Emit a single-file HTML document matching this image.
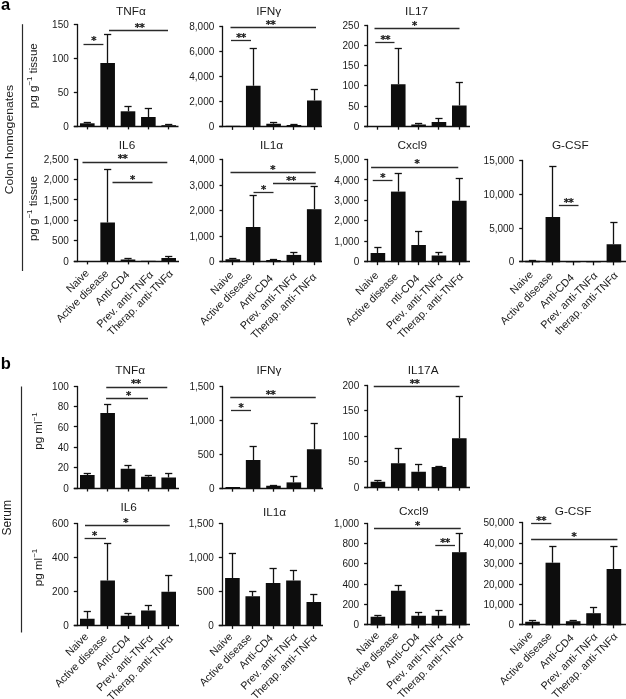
<!DOCTYPE html>
<html><head><meta charset="utf-8"><title>Figure</title>
<style>
html,body{margin:0;padding:0;background:#fff;}
svg{display:block;font-family:"Liberation Sans", sans-serif;}
</style></head>
<body>
<svg width="626" height="699" viewBox="0 0 626 699">
<rect width="626" height="699" fill="#fff"/>
<text x="131.00" y="15.00" font-size="11.8" text-anchor="middle" fill="#1a1a1a" >TNFα</text>
<line x1="77.50" y1="23.85" x2="77.50" y2="127.15" stroke="#111" stroke-width="1.3"/>
<line x1="73.80" y1="126.50" x2="178.50" y2="126.50" stroke="#111" stroke-width="1.3"/>
<line x1="73.80" y1="24.50" x2="77.10" y2="24.50" stroke="#111" stroke-width="1.3"/>
<text x="68.80" y="27.85" font-size="10" text-anchor="end" fill="#1a1a1a" >150</text>
<line x1="73.80" y1="58.50" x2="77.10" y2="58.50" stroke="#111" stroke-width="1.3"/>
<text x="68.80" y="61.75" font-size="10" text-anchor="end" fill="#1a1a1a" >100</text>
<line x1="73.80" y1="92.50" x2="77.10" y2="92.50" stroke="#111" stroke-width="1.3"/>
<text x="68.80" y="95.65" font-size="10" text-anchor="end" fill="#1a1a1a" >50</text>
<line x1="73.80" y1="126.50" x2="77.10" y2="126.50" stroke="#111" stroke-width="1.3"/>
<text x="68.80" y="129.55" font-size="10" text-anchor="end" fill="#1a1a1a" >0</text>
<line x1="87.50" y1="126.00" x2="87.50" y2="129.40" stroke="#111" stroke-width="1.3"/>
<rect x="80.00" y="123.30" width="14.6" height="3.10" fill="#0d0d0d"/>
<line x1="87.50" y1="122.00" x2="87.50" y2="123.30" stroke="#111" stroke-width="1.3"/>
<line x1="83.70" y1="122.50" x2="90.90" y2="122.50" stroke="#111" stroke-width="1.3"/>
<line x1="107.50" y1="126.00" x2="107.50" y2="129.40" stroke="#111" stroke-width="1.3"/>
<rect x="100.35" y="63.00" width="14.6" height="63.40" fill="#0d0d0d"/>
<line x1="107.50" y1="34.30" x2="107.50" y2="63.00" stroke="#111" stroke-width="1.3"/>
<line x1="104.05" y1="34.50" x2="111.25" y2="34.50" stroke="#111" stroke-width="1.3"/>
<line x1="128.50" y1="126.00" x2="128.50" y2="129.40" stroke="#111" stroke-width="1.3"/>
<rect x="120.70" y="111.30" width="14.6" height="15.10" fill="#0d0d0d"/>
<line x1="128.50" y1="106.60" x2="128.50" y2="111.30" stroke="#111" stroke-width="1.3"/>
<line x1="124.40" y1="106.50" x2="131.60" y2="106.50" stroke="#111" stroke-width="1.3"/>
<line x1="148.50" y1="126.00" x2="148.50" y2="129.40" stroke="#111" stroke-width="1.3"/>
<rect x="141.05" y="117.00" width="14.6" height="9.40" fill="#0d0d0d"/>
<line x1="148.50" y1="108.20" x2="148.50" y2="117.00" stroke="#111" stroke-width="1.3"/>
<line x1="144.75" y1="108.50" x2="151.95" y2="108.50" stroke="#111" stroke-width="1.3"/>
<line x1="168.50" y1="126.00" x2="168.50" y2="129.40" stroke="#111" stroke-width="1.3"/>
<rect x="161.40" y="125.20" width="14.6" height="1.20" fill="#0d0d0d"/>
<line x1="168.50" y1="124.60" x2="168.50" y2="125.20" stroke="#111" stroke-width="1.3"/>
<line x1="165.10" y1="124.50" x2="172.30" y2="124.50" stroke="#111" stroke-width="1.3"/>
<line x1="83.50" y1="44.50" x2="103.40" y2="44.50" stroke="#2a2a2a" stroke-width="1.3"/>
<text x="93.70" y="44.40" font-size="10" text-anchor="middle" fill="#1a1a1a" font-family="DejaVu Sans, sans-serif" font-weight="bold" letter-spacing="-0.4" stroke="#1a1a1a" stroke-width="0.25">*</text>
<line x1="109.00" y1="30.50" x2="168.00" y2="30.50" stroke="#2a2a2a" stroke-width="1.3"/>
<text x="139.60" y="30.90" font-size="10" text-anchor="middle" fill="#1a1a1a" font-family="DejaVu Sans, sans-serif" font-weight="bold" letter-spacing="-0.4" stroke="#1a1a1a" stroke-width="0.25">**</text>
<text x="268.75" y="15.00" font-size="11.8" text-anchor="middle" fill="#1a1a1a" >IFNγ</text>
<line x1="222.50" y1="25.85" x2="222.50" y2="127.15" stroke="#111" stroke-width="1.3"/>
<line x1="219.30" y1="126.50" x2="322.00" y2="126.50" stroke="#111" stroke-width="1.3"/>
<line x1="219.30" y1="26.50" x2="222.60" y2="26.50" stroke="#111" stroke-width="1.3"/>
<text x="214.30" y="29.65" font-size="10" text-anchor="end" fill="#1a1a1a" >8,000</text>
<line x1="219.30" y1="51.50" x2="222.60" y2="51.50" stroke="#111" stroke-width="1.3"/>
<text x="214.30" y="54.75" font-size="10" text-anchor="end" fill="#1a1a1a" >6,000</text>
<line x1="219.30" y1="76.50" x2="222.60" y2="76.50" stroke="#111" stroke-width="1.3"/>
<text x="214.30" y="79.85" font-size="10" text-anchor="end" fill="#1a1a1a" >4,000</text>
<line x1="219.30" y1="101.50" x2="222.60" y2="101.50" stroke="#111" stroke-width="1.3"/>
<text x="214.30" y="104.95" font-size="10" text-anchor="end" fill="#1a1a1a" >2,000</text>
<line x1="219.30" y1="126.50" x2="222.60" y2="126.50" stroke="#111" stroke-width="1.3"/>
<text x="214.30" y="130.05" font-size="10" text-anchor="end" fill="#1a1a1a" >0</text>
<line x1="232.50" y1="126.50" x2="232.50" y2="129.90" stroke="#111" stroke-width="1.3"/>
<rect x="225.60" y="125.80" width="14.6" height="1.10" fill="#0d0d0d"/>
<line x1="253.50" y1="126.50" x2="253.50" y2="129.90" stroke="#111" stroke-width="1.3"/>
<rect x="245.95" y="85.75" width="14.6" height="41.15" fill="#0d0d0d"/>
<line x1="253.50" y1="48.00" x2="253.50" y2="85.75" stroke="#111" stroke-width="1.3"/>
<line x1="249.65" y1="48.50" x2="256.85" y2="48.50" stroke="#111" stroke-width="1.3"/>
<line x1="273.50" y1="126.50" x2="273.50" y2="129.90" stroke="#111" stroke-width="1.3"/>
<rect x="266.30" y="123.75" width="14.6" height="3.15" fill="#0d0d0d"/>
<line x1="273.50" y1="122.00" x2="273.50" y2="123.75" stroke="#111" stroke-width="1.3"/>
<line x1="270.00" y1="122.50" x2="277.20" y2="122.50" stroke="#111" stroke-width="1.3"/>
<line x1="293.50" y1="126.50" x2="293.50" y2="129.90" stroke="#111" stroke-width="1.3"/>
<rect x="286.65" y="125.00" width="14.6" height="1.90" fill="#0d0d0d"/>
<line x1="293.50" y1="124.50" x2="293.50" y2="125.00" stroke="#111" stroke-width="1.3"/>
<line x1="290.35" y1="124.50" x2="297.55" y2="124.50" stroke="#111" stroke-width="1.3"/>
<line x1="314.50" y1="126.50" x2="314.50" y2="129.90" stroke="#111" stroke-width="1.3"/>
<rect x="307.00" y="100.50" width="14.6" height="26.40" fill="#0d0d0d"/>
<line x1="314.50" y1="89.25" x2="314.50" y2="100.50" stroke="#111" stroke-width="1.3"/>
<line x1="310.70" y1="89.50" x2="317.90" y2="89.50" stroke="#111" stroke-width="1.3"/>
<line x1="230.50" y1="27.50" x2="316.00" y2="27.50" stroke="#2a2a2a" stroke-width="1.3"/>
<text x="270.50" y="27.80" font-size="10" text-anchor="middle" fill="#1a1a1a" font-family="DejaVu Sans, sans-serif" font-weight="bold" letter-spacing="-0.4" stroke="#1a1a1a" stroke-width="0.25">**</text>
<line x1="231.00" y1="40.50" x2="251.00" y2="40.50" stroke="#2a2a2a" stroke-width="1.3"/>
<text x="241.00" y="40.80" font-size="10" text-anchor="middle" fill="#1a1a1a" font-family="DejaVu Sans, sans-serif" font-weight="bold" letter-spacing="-0.4" stroke="#1a1a1a" stroke-width="0.25">**</text>
<text x="416.60" y="15.00" font-size="11.8" text-anchor="middle" fill="#1a1a1a" >IL17</text>
<line x1="367.50" y1="24.85" x2="367.50" y2="127.15" stroke="#111" stroke-width="1.3"/>
<line x1="364.25" y1="126.50" x2="470.00" y2="126.50" stroke="#111" stroke-width="1.3"/>
<line x1="364.25" y1="25.50" x2="367.55" y2="25.50" stroke="#111" stroke-width="1.3"/>
<text x="359.25" y="28.55" font-size="10" text-anchor="end" fill="#1a1a1a" >250</text>
<line x1="364.25" y1="45.50" x2="367.55" y2="45.50" stroke="#111" stroke-width="1.3"/>
<text x="359.25" y="48.81" font-size="10" text-anchor="end" fill="#1a1a1a" >200</text>
<line x1="364.25" y1="65.50" x2="367.55" y2="65.50" stroke="#111" stroke-width="1.3"/>
<text x="359.25" y="69.07" font-size="10" text-anchor="end" fill="#1a1a1a" >150</text>
<line x1="364.25" y1="85.50" x2="367.55" y2="85.50" stroke="#111" stroke-width="1.3"/>
<text x="359.25" y="89.33" font-size="10" text-anchor="end" fill="#1a1a1a" >100</text>
<line x1="364.25" y1="106.50" x2="367.55" y2="106.50" stroke="#111" stroke-width="1.3"/>
<text x="359.25" y="109.59" font-size="10" text-anchor="end" fill="#1a1a1a" >50</text>
<line x1="364.25" y1="126.50" x2="367.55" y2="126.50" stroke="#111" stroke-width="1.3"/>
<text x="359.25" y="129.85" font-size="10" text-anchor="end" fill="#1a1a1a" >0</text>
<line x1="377.50" y1="126.30" x2="377.50" y2="129.70" stroke="#111" stroke-width="1.3"/>
<line x1="398.50" y1="126.30" x2="398.50" y2="129.70" stroke="#111" stroke-width="1.3"/>
<rect x="390.95" y="84.25" width="14.6" height="42.45" fill="#0d0d0d"/>
<line x1="398.50" y1="48.75" x2="398.50" y2="84.25" stroke="#111" stroke-width="1.3"/>
<line x1="394.65" y1="48.50" x2="401.85" y2="48.50" stroke="#111" stroke-width="1.3"/>
<line x1="418.50" y1="126.30" x2="418.50" y2="129.70" stroke="#111" stroke-width="1.3"/>
<rect x="411.30" y="124.50" width="14.6" height="2.20" fill="#0d0d0d"/>
<line x1="418.50" y1="123.50" x2="418.50" y2="124.50" stroke="#111" stroke-width="1.3"/>
<line x1="415.00" y1="123.50" x2="422.20" y2="123.50" stroke="#111" stroke-width="1.3"/>
<line x1="438.50" y1="126.30" x2="438.50" y2="129.70" stroke="#111" stroke-width="1.3"/>
<rect x="431.65" y="122.00" width="14.6" height="4.70" fill="#0d0d0d"/>
<line x1="438.50" y1="118.25" x2="438.50" y2="122.00" stroke="#111" stroke-width="1.3"/>
<line x1="435.35" y1="118.50" x2="442.55" y2="118.50" stroke="#111" stroke-width="1.3"/>
<line x1="459.50" y1="126.30" x2="459.50" y2="129.70" stroke="#111" stroke-width="1.3"/>
<rect x="452.00" y="105.50" width="14.6" height="21.20" fill="#0d0d0d"/>
<line x1="459.50" y1="82.00" x2="459.50" y2="105.50" stroke="#111" stroke-width="1.3"/>
<line x1="455.70" y1="82.50" x2="462.90" y2="82.50" stroke="#111" stroke-width="1.3"/>
<line x1="374.50" y1="28.50" x2="459.50" y2="28.50" stroke="#2a2a2a" stroke-width="1.3"/>
<text x="414.50" y="29.10" font-size="10" text-anchor="middle" fill="#1a1a1a" font-family="DejaVu Sans, sans-serif" font-weight="bold" letter-spacing="-0.4" stroke="#1a1a1a" stroke-width="0.25">*</text>
<line x1="375.25" y1="42.50" x2="394.50" y2="42.50" stroke="#2a2a2a" stroke-width="1.3"/>
<text x="385.25" y="42.55" font-size="10" text-anchor="middle" fill="#1a1a1a" font-family="DejaVu Sans, sans-serif" font-weight="bold" letter-spacing="-0.4" stroke="#1a1a1a" stroke-width="0.25">**</text>
<text x="127.00" y="149.00" font-size="11.8" text-anchor="middle" fill="#1a1a1a" >IL6</text>
<line x1="77.50" y1="158.85" x2="77.50" y2="262.15" stroke="#111" stroke-width="1.3"/>
<line x1="73.80" y1="261.50" x2="179.00" y2="261.50" stroke="#111" stroke-width="1.3"/>
<line x1="73.80" y1="159.50" x2="77.10" y2="159.50" stroke="#111" stroke-width="1.3"/>
<text x="68.80" y="162.85" font-size="10" text-anchor="end" fill="#1a1a1a" >2,500</text>
<line x1="73.80" y1="179.50" x2="77.10" y2="179.50" stroke="#111" stroke-width="1.3"/>
<text x="68.80" y="183.19" font-size="10" text-anchor="end" fill="#1a1a1a" >2,000</text>
<line x1="73.80" y1="199.50" x2="77.10" y2="199.50" stroke="#111" stroke-width="1.3"/>
<text x="68.80" y="203.53" font-size="10" text-anchor="end" fill="#1a1a1a" >1,500</text>
<line x1="73.80" y1="220.50" x2="77.10" y2="220.50" stroke="#111" stroke-width="1.3"/>
<text x="68.80" y="223.87" font-size="10" text-anchor="end" fill="#1a1a1a" >1,000</text>
<line x1="73.80" y1="240.50" x2="77.10" y2="240.50" stroke="#111" stroke-width="1.3"/>
<text x="68.80" y="244.21" font-size="10" text-anchor="end" fill="#1a1a1a" >500</text>
<line x1="73.80" y1="261.50" x2="77.10" y2="261.50" stroke="#111" stroke-width="1.3"/>
<text x="68.80" y="264.55" font-size="10" text-anchor="end" fill="#1a1a1a" >0</text>
<line x1="87.50" y1="261.00" x2="87.50" y2="264.40" stroke="#111" stroke-width="1.3"/>
<line x1="107.50" y1="261.00" x2="107.50" y2="264.40" stroke="#111" stroke-width="1.3"/>
<rect x="100.35" y="222.50" width="14.6" height="38.90" fill="#0d0d0d"/>
<line x1="107.50" y1="169.25" x2="107.50" y2="222.50" stroke="#111" stroke-width="1.3"/>
<line x1="104.05" y1="169.50" x2="111.25" y2="169.50" stroke="#111" stroke-width="1.3"/>
<line x1="128.50" y1="261.00" x2="128.50" y2="264.40" stroke="#111" stroke-width="1.3"/>
<rect x="120.70" y="259.50" width="14.6" height="1.90" fill="#0d0d0d"/>
<line x1="128.50" y1="258.80" x2="128.50" y2="259.50" stroke="#111" stroke-width="1.3"/>
<line x1="124.40" y1="258.50" x2="131.60" y2="258.50" stroke="#111" stroke-width="1.3"/>
<line x1="148.50" y1="261.00" x2="148.50" y2="264.40" stroke="#111" stroke-width="1.3"/>
<rect x="141.05" y="260.80" width="14.6" height="0.60" fill="#0d0d0d"/>
<line x1="168.50" y1="261.00" x2="168.50" y2="264.40" stroke="#111" stroke-width="1.3"/>
<rect x="161.40" y="258.00" width="14.6" height="3.40" fill="#0d0d0d"/>
<line x1="168.50" y1="256.75" x2="168.50" y2="258.00" stroke="#111" stroke-width="1.3"/>
<line x1="165.10" y1="256.50" x2="172.30" y2="256.50" stroke="#111" stroke-width="1.3"/>
<line x1="82.50" y1="162.50" x2="167.30" y2="162.50" stroke="#2a2a2a" stroke-width="1.3"/>
<text x="122.50" y="162.20" font-size="10" text-anchor="middle" fill="#1a1a1a" font-family="DejaVu Sans, sans-serif" font-weight="bold" letter-spacing="-0.4" stroke="#1a1a1a" stroke-width="0.25">**</text>
<line x1="112.50" y1="182.50" x2="152.50" y2="182.50" stroke="#2a2a2a" stroke-width="1.3"/>
<text x="132.50" y="182.80" font-size="10" text-anchor="middle" fill="#1a1a1a" font-family="DejaVu Sans, sans-serif" font-weight="bold" letter-spacing="-0.4" stroke="#1a1a1a" stroke-width="0.25">*</text>
<text x="89.80" y="273.80" font-size="10.7" text-anchor="end" fill="#1a1a1a" transform="rotate(-45 89.80 273.80)">Naive</text>
<text x="109.15" y="274.30" font-size="10.7" text-anchor="end" fill="#1a1a1a" transform="rotate(-45 109.15 274.30)">Active disease</text>
<text x="130.20" y="275.40" font-size="10.7" text-anchor="end" fill="#1a1a1a" transform="rotate(-45 130.20 275.40)">Anti-CD4</text>
<text x="153.85" y="275.30" font-size="10.7" text-anchor="end" fill="#1a1a1a" transform="rotate(-45 153.85 275.30)">Prev. anti-TNFα</text>
<text x="173.70" y="274.30" font-size="10.7" text-anchor="end" fill="#1a1a1a" transform="rotate(-45 173.70 274.30)">Therap. anti-TNFα</text>
<text x="271.60" y="148.80" font-size="11.8" text-anchor="middle" fill="#1a1a1a" >IL1α</text>
<line x1="222.50" y1="158.85" x2="222.50" y2="262.15" stroke="#111" stroke-width="1.3"/>
<line x1="219.50" y1="261.50" x2="322.00" y2="261.50" stroke="#111" stroke-width="1.3"/>
<line x1="219.50" y1="159.50" x2="222.80" y2="159.50" stroke="#111" stroke-width="1.3"/>
<text x="214.50" y="163.05" font-size="10" text-anchor="end" fill="#1a1a1a" >4,000</text>
<line x1="219.50" y1="185.50" x2="222.80" y2="185.50" stroke="#111" stroke-width="1.3"/>
<text x="214.50" y="188.61" font-size="10" text-anchor="end" fill="#1a1a1a" >3,000</text>
<line x1="219.50" y1="210.50" x2="222.80" y2="210.50" stroke="#111" stroke-width="1.3"/>
<text x="214.50" y="214.18" font-size="10" text-anchor="end" fill="#1a1a1a" >2,000</text>
<line x1="219.50" y1="236.50" x2="222.80" y2="236.50" stroke="#111" stroke-width="1.3"/>
<text x="214.50" y="239.74" font-size="10" text-anchor="end" fill="#1a1a1a" >1,000</text>
<line x1="219.50" y1="261.50" x2="222.80" y2="261.50" stroke="#111" stroke-width="1.3"/>
<text x="214.50" y="265.30" font-size="10" text-anchor="end" fill="#1a1a1a" >0</text>
<line x1="232.50" y1="261.75" x2="232.50" y2="265.15" stroke="#111" stroke-width="1.3"/>
<rect x="225.50" y="259.25" width="14.6" height="2.90" fill="#0d0d0d"/>
<line x1="232.50" y1="258.50" x2="232.50" y2="259.25" stroke="#111" stroke-width="1.3"/>
<line x1="229.20" y1="258.50" x2="236.40" y2="258.50" stroke="#111" stroke-width="1.3"/>
<line x1="253.50" y1="261.75" x2="253.50" y2="265.15" stroke="#111" stroke-width="1.3"/>
<rect x="245.85" y="227.00" width="14.6" height="35.15" fill="#0d0d0d"/>
<line x1="253.50" y1="195.50" x2="253.50" y2="227.00" stroke="#111" stroke-width="1.3"/>
<line x1="249.55" y1="195.50" x2="256.75" y2="195.50" stroke="#111" stroke-width="1.3"/>
<line x1="273.50" y1="261.75" x2="273.50" y2="265.15" stroke="#111" stroke-width="1.3"/>
<rect x="266.20" y="260.00" width="14.6" height="2.15" fill="#0d0d0d"/>
<line x1="273.50" y1="259.40" x2="273.50" y2="260.00" stroke="#111" stroke-width="1.3"/>
<line x1="269.90" y1="259.50" x2="277.10" y2="259.50" stroke="#111" stroke-width="1.3"/>
<line x1="293.50" y1="261.75" x2="293.50" y2="265.15" stroke="#111" stroke-width="1.3"/>
<rect x="286.55" y="254.90" width="14.6" height="7.25" fill="#0d0d0d"/>
<line x1="293.50" y1="252.80" x2="293.50" y2="254.90" stroke="#111" stroke-width="1.3"/>
<line x1="290.25" y1="252.50" x2="297.45" y2="252.50" stroke="#111" stroke-width="1.3"/>
<line x1="314.50" y1="261.75" x2="314.50" y2="265.15" stroke="#111" stroke-width="1.3"/>
<rect x="306.90" y="209.20" width="14.6" height="52.95" fill="#0d0d0d"/>
<line x1="314.50" y1="186.40" x2="314.50" y2="209.20" stroke="#111" stroke-width="1.3"/>
<line x1="310.60" y1="186.50" x2="317.80" y2="186.50" stroke="#111" stroke-width="1.3"/>
<line x1="230.50" y1="172.50" x2="315.75" y2="172.50" stroke="#2a2a2a" stroke-width="1.3"/>
<text x="272.75" y="172.60" font-size="10" text-anchor="middle" fill="#1a1a1a" font-family="DejaVu Sans, sans-serif" font-weight="bold" letter-spacing="-0.4" stroke="#1a1a1a" stroke-width="0.25">*</text>
<line x1="273.00" y1="183.50" x2="315.75" y2="183.50" stroke="#2a2a2a" stroke-width="1.3"/>
<text x="291.00" y="183.80" font-size="10" text-anchor="middle" fill="#1a1a1a" font-family="DejaVu Sans, sans-serif" font-weight="bold" letter-spacing="-0.4" stroke="#1a1a1a" stroke-width="0.25">**</text>
<line x1="253.50" y1="192.50" x2="273.50" y2="192.50" stroke="#2a2a2a" stroke-width="1.3"/>
<text x="263.50" y="192.55" font-size="10" text-anchor="middle" fill="#1a1a1a" font-family="DejaVu Sans, sans-serif" font-weight="bold" letter-spacing="-0.4" stroke="#1a1a1a" stroke-width="0.25">*</text>
<text x="234.00" y="275.85" font-size="10.7" text-anchor="end" fill="#1a1a1a" transform="rotate(-45 234.00 275.85)">Naive</text>
<text x="252.85" y="276.95" font-size="10.7" text-anchor="end" fill="#1a1a1a" transform="rotate(-45 252.85 276.95)">Active disease</text>
<text x="273.80" y="278.95" font-size="10.7" text-anchor="end" fill="#1a1a1a" transform="rotate(-45 273.80 278.95)">Anti-CD4</text>
<text x="297.35" y="276.95" font-size="10.7" text-anchor="end" fill="#1a1a1a" transform="rotate(-45 297.35 276.95)">Prev. anti-TNFα</text>
<text x="317.20" y="277.65" font-size="10.7" text-anchor="end" fill="#1a1a1a" transform="rotate(-45 317.20 277.65)">Therap. anti-TNFα</text>
<text x="412.25" y="149.40" font-size="11.8" text-anchor="middle" fill="#1a1a1a" >Cxcl9</text>
<line x1="367.50" y1="158.85" x2="367.50" y2="262.15" stroke="#111" stroke-width="1.3"/>
<line x1="364.25" y1="261.50" x2="470.00" y2="261.50" stroke="#111" stroke-width="1.3"/>
<line x1="364.25" y1="159.50" x2="367.55" y2="159.50" stroke="#111" stroke-width="1.3"/>
<text x="359.25" y="163.05" font-size="10" text-anchor="end" fill="#1a1a1a" >5,000</text>
<line x1="364.25" y1="179.50" x2="367.55" y2="179.50" stroke="#111" stroke-width="1.3"/>
<text x="359.25" y="183.50" font-size="10" text-anchor="end" fill="#1a1a1a" >4,000</text>
<line x1="364.25" y1="200.50" x2="367.55" y2="200.50" stroke="#111" stroke-width="1.3"/>
<text x="359.25" y="203.95" font-size="10" text-anchor="end" fill="#1a1a1a" >3,000</text>
<line x1="364.25" y1="220.50" x2="367.55" y2="220.50" stroke="#111" stroke-width="1.3"/>
<text x="359.25" y="224.40" font-size="10" text-anchor="end" fill="#1a1a1a" >2,000</text>
<line x1="364.25" y1="241.50" x2="367.55" y2="241.50" stroke="#111" stroke-width="1.3"/>
<text x="359.25" y="244.85" font-size="10" text-anchor="end" fill="#1a1a1a" >1,000</text>
<line x1="364.25" y1="261.50" x2="367.55" y2="261.50" stroke="#111" stroke-width="1.3"/>
<text x="359.25" y="265.30" font-size="10" text-anchor="end" fill="#1a1a1a" >0</text>
<line x1="377.50" y1="261.75" x2="377.50" y2="265.15" stroke="#111" stroke-width="1.3"/>
<rect x="370.60" y="253.00" width="14.6" height="9.15" fill="#0d0d0d"/>
<line x1="377.50" y1="247.50" x2="377.50" y2="253.00" stroke="#111" stroke-width="1.3"/>
<line x1="374.30" y1="247.50" x2="381.50" y2="247.50" stroke="#111" stroke-width="1.3"/>
<line x1="398.50" y1="261.75" x2="398.50" y2="265.15" stroke="#111" stroke-width="1.3"/>
<rect x="390.95" y="191.60" width="14.6" height="70.55" fill="#0d0d0d"/>
<line x1="398.50" y1="173.75" x2="398.50" y2="191.60" stroke="#111" stroke-width="1.3"/>
<line x1="394.65" y1="173.50" x2="401.85" y2="173.50" stroke="#111" stroke-width="1.3"/>
<line x1="418.50" y1="261.75" x2="418.50" y2="265.15" stroke="#111" stroke-width="1.3"/>
<rect x="411.30" y="245.00" width="14.6" height="17.15" fill="#0d0d0d"/>
<line x1="418.50" y1="231.75" x2="418.50" y2="245.00" stroke="#111" stroke-width="1.3"/>
<line x1="415.00" y1="231.50" x2="422.20" y2="231.50" stroke="#111" stroke-width="1.3"/>
<line x1="438.50" y1="261.75" x2="438.50" y2="265.15" stroke="#111" stroke-width="1.3"/>
<rect x="431.65" y="255.50" width="14.6" height="6.65" fill="#0d0d0d"/>
<line x1="438.50" y1="252.50" x2="438.50" y2="255.50" stroke="#111" stroke-width="1.3"/>
<line x1="435.35" y1="252.50" x2="442.55" y2="252.50" stroke="#111" stroke-width="1.3"/>
<line x1="459.50" y1="261.75" x2="459.50" y2="265.15" stroke="#111" stroke-width="1.3"/>
<rect x="452.00" y="200.75" width="14.6" height="61.40" fill="#0d0d0d"/>
<line x1="459.50" y1="178.25" x2="459.50" y2="200.75" stroke="#111" stroke-width="1.3"/>
<line x1="455.70" y1="178.50" x2="462.90" y2="178.50" stroke="#111" stroke-width="1.3"/>
<line x1="371.10" y1="167.50" x2="458.25" y2="167.50" stroke="#2a2a2a" stroke-width="1.3"/>
<text x="417.00" y="167.40" font-size="10" text-anchor="middle" fill="#1a1a1a" font-family="DejaVu Sans, sans-serif" font-weight="bold" letter-spacing="-0.4" stroke="#1a1a1a" stroke-width="0.25">*</text>
<line x1="372.75" y1="180.50" x2="392.50" y2="180.50" stroke="#2a2a2a" stroke-width="1.3"/>
<text x="382.75" y="181.00" font-size="10" text-anchor="middle" fill="#1a1a1a" font-family="DejaVu Sans, sans-serif" font-weight="bold" letter-spacing="-0.4" stroke="#1a1a1a" stroke-width="0.25">*</text>
<text x="379.10" y="276.05" font-size="10.7" text-anchor="end" fill="#1a1a1a" transform="rotate(-45 379.10 276.05)">Naive</text>
<text x="398.75" y="277.35" font-size="10.7" text-anchor="end" fill="#1a1a1a" transform="rotate(-45 398.75 277.35)">Active disease</text>
<text x="420.10" y="279.15" font-size="10.7" text-anchor="end" fill="#1a1a1a" transform="rotate(-45 420.10 279.15)">nti-CD4</text>
<text x="443.45" y="277.15" font-size="10.7" text-anchor="end" fill="#1a1a1a" transform="rotate(-45 443.45 277.15)">Prev. anti-TNFα</text>
<text x="463.80" y="277.05" font-size="10.7" text-anchor="end" fill="#1a1a1a" transform="rotate(-45 463.80 277.05)">Therap. anti-TNFα</text>
<text x="570.30" y="149.30" font-size="11.8" text-anchor="middle" fill="#1a1a1a" >G-CSF</text>
<line x1="522.50" y1="159.85" x2="522.50" y2="262.15" stroke="#111" stroke-width="1.3"/>
<line x1="519.20" y1="261.50" x2="626.00" y2="261.50" stroke="#111" stroke-width="1.3"/>
<line x1="519.20" y1="160.50" x2="522.50" y2="160.50" stroke="#111" stroke-width="1.3"/>
<text x="514.20" y="163.75" font-size="10" text-anchor="end" fill="#1a1a1a" >15,000</text>
<line x1="519.20" y1="194.50" x2="522.50" y2="194.50" stroke="#111" stroke-width="1.3"/>
<text x="514.20" y="197.65" font-size="10" text-anchor="end" fill="#1a1a1a" >10,000</text>
<line x1="519.20" y1="228.50" x2="522.50" y2="228.50" stroke="#111" stroke-width="1.3"/>
<text x="514.20" y="231.55" font-size="10" text-anchor="end" fill="#1a1a1a" >5,000</text>
<line x1="519.20" y1="261.50" x2="522.50" y2="261.50" stroke="#111" stroke-width="1.3"/>
<text x="514.20" y="265.45" font-size="10" text-anchor="end" fill="#1a1a1a" >0</text>
<line x1="532.50" y1="261.90" x2="532.50" y2="265.30" stroke="#111" stroke-width="1.3"/>
<rect x="525.20" y="260.80" width="14.6" height="1.50" fill="#0d0d0d"/>
<line x1="532.50" y1="260.30" x2="532.50" y2="260.80" stroke="#111" stroke-width="1.3"/>
<line x1="528.90" y1="260.50" x2="536.10" y2="260.50" stroke="#111" stroke-width="1.3"/>
<line x1="552.50" y1="261.90" x2="552.50" y2="265.30" stroke="#111" stroke-width="1.3"/>
<rect x="545.55" y="217.00" width="14.6" height="45.30" fill="#0d0d0d"/>
<line x1="552.50" y1="166.50" x2="552.50" y2="217.00" stroke="#111" stroke-width="1.3"/>
<line x1="549.25" y1="166.50" x2="556.45" y2="166.50" stroke="#111" stroke-width="1.3"/>
<line x1="573.50" y1="261.90" x2="573.50" y2="265.30" stroke="#111" stroke-width="1.3"/>
<rect x="565.90" y="261.20" width="14.6" height="1.10" fill="#0d0d0d"/>
<line x1="593.50" y1="261.90" x2="593.50" y2="265.30" stroke="#111" stroke-width="1.3"/>
<rect x="586.25" y="261.00" width="14.6" height="1.30" fill="#0d0d0d"/>
<line x1="613.50" y1="261.90" x2="613.50" y2="265.30" stroke="#111" stroke-width="1.3"/>
<rect x="606.60" y="244.25" width="14.6" height="18.05" fill="#0d0d0d"/>
<line x1="613.50" y1="222.50" x2="613.50" y2="244.25" stroke="#111" stroke-width="1.3"/>
<line x1="610.30" y1="222.50" x2="617.50" y2="222.50" stroke="#111" stroke-width="1.3"/>
<line x1="558.90" y1="205.50" x2="578.50" y2="205.50" stroke="#2a2a2a" stroke-width="1.3"/>
<text x="568.50" y="205.80" font-size="10" text-anchor="middle" fill="#1a1a1a" font-family="DejaVu Sans, sans-serif" font-weight="bold" letter-spacing="-0.4" stroke="#1a1a1a" stroke-width="0.25">**</text>
<text x="533.70" y="275.20" font-size="10.7" text-anchor="end" fill="#1a1a1a" transform="rotate(-45 533.70 275.20)">Naive</text>
<text x="553.35" y="276.50" font-size="10.7" text-anchor="end" fill="#1a1a1a" transform="rotate(-45 553.35 276.50)">Active disease</text>
<text x="574.70" y="278.30" font-size="10.7" text-anchor="end" fill="#1a1a1a" transform="rotate(-45 574.70 278.30)">Anti-CD4</text>
<text x="598.05" y="276.30" font-size="10.7" text-anchor="end" fill="#1a1a1a" transform="rotate(-45 598.05 276.30)">Prev. anti-TNFα</text>
<text x="618.40" y="276.20" font-size="10.7" text-anchor="end" fill="#1a1a1a" transform="rotate(-45 618.40 276.20)">therap. anti-TNFα</text>
<text x="130.25" y="373.75" font-size="11.8" text-anchor="middle" fill="#1a1a1a" >TNFα</text>
<line x1="77.50" y1="385.85" x2="77.50" y2="489.15" stroke="#111" stroke-width="1.3"/>
<line x1="73.80" y1="488.50" x2="179.00" y2="488.50" stroke="#111" stroke-width="1.3"/>
<line x1="73.80" y1="386.50" x2="77.10" y2="386.50" stroke="#111" stroke-width="1.3"/>
<text x="68.80" y="389.80" font-size="10" text-anchor="end" fill="#1a1a1a" >100</text>
<line x1="73.80" y1="406.50" x2="77.10" y2="406.50" stroke="#111" stroke-width="1.3"/>
<text x="68.80" y="410.17" font-size="10" text-anchor="end" fill="#1a1a1a" >80</text>
<line x1="73.80" y1="426.50" x2="77.10" y2="426.50" stroke="#111" stroke-width="1.3"/>
<text x="68.80" y="430.54" font-size="10" text-anchor="end" fill="#1a1a1a" >60</text>
<line x1="73.80" y1="447.50" x2="77.10" y2="447.50" stroke="#111" stroke-width="1.3"/>
<text x="68.80" y="450.91" font-size="10" text-anchor="end" fill="#1a1a1a" >40</text>
<line x1="73.80" y1="467.50" x2="77.10" y2="467.50" stroke="#111" stroke-width="1.3"/>
<text x="68.80" y="471.28" font-size="10" text-anchor="end" fill="#1a1a1a" >20</text>
<line x1="73.80" y1="488.50" x2="77.10" y2="488.50" stroke="#111" stroke-width="1.3"/>
<text x="68.80" y="491.65" font-size="10" text-anchor="end" fill="#1a1a1a" >0</text>
<line x1="87.50" y1="488.10" x2="87.50" y2="491.50" stroke="#111" stroke-width="1.3"/>
<rect x="80.00" y="475.00" width="14.6" height="13.50" fill="#0d0d0d"/>
<line x1="87.50" y1="473.25" x2="87.50" y2="475.00" stroke="#111" stroke-width="1.3"/>
<line x1="83.70" y1="473.50" x2="90.90" y2="473.50" stroke="#111" stroke-width="1.3"/>
<line x1="107.50" y1="488.10" x2="107.50" y2="491.50" stroke="#111" stroke-width="1.3"/>
<rect x="100.35" y="413.00" width="14.6" height="75.50" fill="#0d0d0d"/>
<line x1="107.50" y1="404.25" x2="107.50" y2="413.00" stroke="#111" stroke-width="1.3"/>
<line x1="104.05" y1="404.50" x2="111.25" y2="404.50" stroke="#111" stroke-width="1.3"/>
<line x1="128.50" y1="488.10" x2="128.50" y2="491.50" stroke="#111" stroke-width="1.3"/>
<rect x="120.70" y="468.75" width="14.6" height="19.75" fill="#0d0d0d"/>
<line x1="128.50" y1="465.00" x2="128.50" y2="468.75" stroke="#111" stroke-width="1.3"/>
<line x1="124.40" y1="465.50" x2="131.60" y2="465.50" stroke="#111" stroke-width="1.3"/>
<line x1="148.50" y1="488.10" x2="148.50" y2="491.50" stroke="#111" stroke-width="1.3"/>
<rect x="141.05" y="476.75" width="14.6" height="11.75" fill="#0d0d0d"/>
<line x1="148.50" y1="475.00" x2="148.50" y2="476.75" stroke="#111" stroke-width="1.3"/>
<line x1="144.75" y1="475.50" x2="151.95" y2="475.50" stroke="#111" stroke-width="1.3"/>
<line x1="168.50" y1="488.10" x2="168.50" y2="491.50" stroke="#111" stroke-width="1.3"/>
<rect x="161.40" y="477.50" width="14.6" height="11.00" fill="#0d0d0d"/>
<line x1="168.50" y1="473.25" x2="168.50" y2="477.50" stroke="#111" stroke-width="1.3"/>
<line x1="165.10" y1="473.50" x2="172.30" y2="473.50" stroke="#111" stroke-width="1.3"/>
<line x1="106.25" y1="387.50" x2="167.25" y2="387.50" stroke="#2a2a2a" stroke-width="1.3"/>
<text x="135.75" y="387.40" font-size="10" text-anchor="middle" fill="#1a1a1a" font-family="DejaVu Sans, sans-serif" font-weight="bold" letter-spacing="-0.4" stroke="#1a1a1a" stroke-width="0.25">**</text>
<line x1="106.10" y1="398.50" x2="148.00" y2="398.50" stroke="#2a2a2a" stroke-width="1.3"/>
<text x="128.50" y="398.90" font-size="10" text-anchor="middle" fill="#1a1a1a" font-family="DejaVu Sans, sans-serif" font-weight="bold" letter-spacing="-0.4" stroke="#1a1a1a" stroke-width="0.25">*</text>
<text x="269.00" y="373.75" font-size="11.8" text-anchor="middle" fill="#1a1a1a" >IFNγ</text>
<line x1="222.50" y1="385.85" x2="222.50" y2="489.15" stroke="#111" stroke-width="1.3"/>
<line x1="219.50" y1="488.50" x2="323.00" y2="488.50" stroke="#111" stroke-width="1.3"/>
<line x1="219.50" y1="386.50" x2="222.80" y2="386.50" stroke="#111" stroke-width="1.3"/>
<text x="214.50" y="390.05" font-size="10" text-anchor="end" fill="#1a1a1a" >1,500</text>
<line x1="219.50" y1="420.50" x2="222.80" y2="420.50" stroke="#111" stroke-width="1.3"/>
<text x="214.50" y="423.98" font-size="10" text-anchor="end" fill="#1a1a1a" >1,000</text>
<line x1="219.50" y1="454.50" x2="222.80" y2="454.50" stroke="#111" stroke-width="1.3"/>
<text x="214.50" y="457.92" font-size="10" text-anchor="end" fill="#1a1a1a" >500</text>
<line x1="219.50" y1="488.50" x2="222.80" y2="488.50" stroke="#111" stroke-width="1.3"/>
<text x="214.50" y="491.85" font-size="10" text-anchor="end" fill="#1a1a1a" >0</text>
<line x1="232.50" y1="488.30" x2="232.50" y2="491.70" stroke="#111" stroke-width="1.3"/>
<rect x="225.50" y="487.00" width="14.6" height="1.70" fill="#0d0d0d"/>
<line x1="253.50" y1="488.30" x2="253.50" y2="491.70" stroke="#111" stroke-width="1.3"/>
<rect x="245.85" y="460.00" width="14.6" height="28.70" fill="#0d0d0d"/>
<line x1="253.50" y1="446.75" x2="253.50" y2="460.00" stroke="#111" stroke-width="1.3"/>
<line x1="249.55" y1="446.50" x2="256.75" y2="446.50" stroke="#111" stroke-width="1.3"/>
<line x1="273.50" y1="488.30" x2="273.50" y2="491.70" stroke="#111" stroke-width="1.3"/>
<rect x="266.20" y="485.75" width="14.6" height="2.95" fill="#0d0d0d"/>
<line x1="273.50" y1="485.00" x2="273.50" y2="485.75" stroke="#111" stroke-width="1.3"/>
<line x1="269.90" y1="485.50" x2="277.10" y2="485.50" stroke="#111" stroke-width="1.3"/>
<line x1="293.50" y1="488.30" x2="293.50" y2="491.70" stroke="#111" stroke-width="1.3"/>
<rect x="286.55" y="482.40" width="14.6" height="6.30" fill="#0d0d0d"/>
<line x1="293.50" y1="476.75" x2="293.50" y2="482.40" stroke="#111" stroke-width="1.3"/>
<line x1="290.25" y1="476.50" x2="297.45" y2="476.50" stroke="#111" stroke-width="1.3"/>
<line x1="314.50" y1="488.30" x2="314.50" y2="491.70" stroke="#111" stroke-width="1.3"/>
<rect x="306.90" y="449.25" width="14.6" height="39.45" fill="#0d0d0d"/>
<line x1="314.50" y1="423.00" x2="314.50" y2="449.25" stroke="#111" stroke-width="1.3"/>
<line x1="310.60" y1="423.50" x2="317.80" y2="423.50" stroke="#111" stroke-width="1.3"/>
<line x1="230.25" y1="397.50" x2="315.75" y2="397.50" stroke="#2a2a2a" stroke-width="1.3"/>
<text x="270.50" y="397.55" font-size="10" text-anchor="middle" fill="#1a1a1a" font-family="DejaVu Sans, sans-serif" font-weight="bold" letter-spacing="-0.4" stroke="#1a1a1a" stroke-width="0.25">**</text>
<line x1="231.00" y1="410.50" x2="251.00" y2="410.50" stroke="#2a2a2a" stroke-width="1.3"/>
<text x="241.00" y="410.80" font-size="10" text-anchor="middle" fill="#1a1a1a" font-family="DejaVu Sans, sans-serif" font-weight="bold" letter-spacing="-0.4" stroke="#1a1a1a" stroke-width="0.25">*</text>
<text x="423.10" y="373.75" font-size="11.8" text-anchor="middle" fill="#1a1a1a" >IL17A</text>
<line x1="367.50" y1="384.85" x2="367.50" y2="488.15" stroke="#111" stroke-width="1.3"/>
<line x1="364.25" y1="487.50" x2="470.00" y2="487.50" stroke="#111" stroke-width="1.3"/>
<line x1="364.25" y1="385.50" x2="367.55" y2="385.50" stroke="#111" stroke-width="1.3"/>
<text x="359.25" y="388.95" font-size="10" text-anchor="end" fill="#1a1a1a" >200</text>
<line x1="364.25" y1="410.50" x2="367.55" y2="410.50" stroke="#111" stroke-width="1.3"/>
<text x="359.25" y="414.43" font-size="10" text-anchor="end" fill="#1a1a1a" >150</text>
<line x1="364.25" y1="436.50" x2="367.55" y2="436.50" stroke="#111" stroke-width="1.3"/>
<text x="359.25" y="439.90" font-size="10" text-anchor="end" fill="#1a1a1a" >100</text>
<line x1="364.25" y1="461.50" x2="367.55" y2="461.50" stroke="#111" stroke-width="1.3"/>
<text x="359.25" y="465.38" font-size="10" text-anchor="end" fill="#1a1a1a" >50</text>
<line x1="364.25" y1="487.50" x2="367.55" y2="487.50" stroke="#111" stroke-width="1.3"/>
<text x="359.25" y="490.85" font-size="10" text-anchor="end" fill="#1a1a1a" >0</text>
<line x1="377.50" y1="487.30" x2="377.50" y2="490.70" stroke="#111" stroke-width="1.3"/>
<rect x="370.60" y="481.75" width="14.6" height="5.95" fill="#0d0d0d"/>
<line x1="377.50" y1="480.00" x2="377.50" y2="481.75" stroke="#111" stroke-width="1.3"/>
<line x1="374.30" y1="480.50" x2="381.50" y2="480.50" stroke="#111" stroke-width="1.3"/>
<line x1="398.50" y1="487.30" x2="398.50" y2="490.70" stroke="#111" stroke-width="1.3"/>
<rect x="390.95" y="463.25" width="14.6" height="24.45" fill="#0d0d0d"/>
<line x1="398.50" y1="448.00" x2="398.50" y2="463.25" stroke="#111" stroke-width="1.3"/>
<line x1="394.65" y1="448.50" x2="401.85" y2="448.50" stroke="#111" stroke-width="1.3"/>
<line x1="418.50" y1="487.30" x2="418.50" y2="490.70" stroke="#111" stroke-width="1.3"/>
<rect x="411.30" y="471.75" width="14.6" height="15.95" fill="#0d0d0d"/>
<line x1="418.50" y1="464.50" x2="418.50" y2="471.75" stroke="#111" stroke-width="1.3"/>
<line x1="415.00" y1="464.50" x2="422.20" y2="464.50" stroke="#111" stroke-width="1.3"/>
<line x1="438.50" y1="487.30" x2="438.50" y2="490.70" stroke="#111" stroke-width="1.3"/>
<rect x="431.65" y="467.00" width="14.6" height="20.70" fill="#0d0d0d"/>
<line x1="438.50" y1="466.25" x2="438.50" y2="467.00" stroke="#111" stroke-width="1.3"/>
<line x1="435.35" y1="466.50" x2="442.55" y2="466.50" stroke="#111" stroke-width="1.3"/>
<line x1="459.50" y1="487.30" x2="459.50" y2="490.70" stroke="#111" stroke-width="1.3"/>
<rect x="452.00" y="438.25" width="14.6" height="49.45" fill="#0d0d0d"/>
<line x1="459.50" y1="396.25" x2="459.50" y2="438.25" stroke="#111" stroke-width="1.3"/>
<line x1="455.70" y1="396.50" x2="462.90" y2="396.50" stroke="#111" stroke-width="1.3"/>
<line x1="373.75" y1="386.50" x2="459.50" y2="386.50" stroke="#2a2a2a" stroke-width="1.3"/>
<text x="414.50" y="386.70" font-size="10" text-anchor="middle" fill="#1a1a1a" font-family="DejaVu Sans, sans-serif" font-weight="bold" letter-spacing="-0.4" stroke="#1a1a1a" stroke-width="0.25">**</text>
<text x="128.60" y="511.00" font-size="11.8" text-anchor="middle" fill="#1a1a1a" >IL6</text>
<line x1="77.50" y1="522.85" x2="77.50" y2="626.15" stroke="#111" stroke-width="1.3"/>
<line x1="73.80" y1="625.50" x2="179.00" y2="625.50" stroke="#111" stroke-width="1.3"/>
<line x1="73.80" y1="523.50" x2="77.10" y2="523.50" stroke="#111" stroke-width="1.3"/>
<text x="68.80" y="527.35" font-size="10" text-anchor="end" fill="#1a1a1a" >600</text>
<line x1="73.80" y1="557.50" x2="77.10" y2="557.50" stroke="#111" stroke-width="1.3"/>
<text x="68.80" y="561.25" font-size="10" text-anchor="end" fill="#1a1a1a" >400</text>
<line x1="73.80" y1="591.50" x2="77.10" y2="591.50" stroke="#111" stroke-width="1.3"/>
<text x="68.80" y="595.15" font-size="10" text-anchor="end" fill="#1a1a1a" >200</text>
<line x1="73.80" y1="625.50" x2="77.10" y2="625.50" stroke="#111" stroke-width="1.3"/>
<text x="68.80" y="629.05" font-size="10" text-anchor="end" fill="#1a1a1a" >0</text>
<line x1="87.50" y1="625.50" x2="87.50" y2="628.90" stroke="#111" stroke-width="1.3"/>
<rect x="80.00" y="618.75" width="14.6" height="7.15" fill="#0d0d0d"/>
<line x1="87.50" y1="611.75" x2="87.50" y2="618.75" stroke="#111" stroke-width="1.3"/>
<line x1="83.70" y1="611.50" x2="90.90" y2="611.50" stroke="#111" stroke-width="1.3"/>
<line x1="107.50" y1="625.50" x2="107.50" y2="628.90" stroke="#111" stroke-width="1.3"/>
<rect x="100.35" y="580.50" width="14.6" height="45.40" fill="#0d0d0d"/>
<line x1="107.50" y1="543.00" x2="107.50" y2="580.50" stroke="#111" stroke-width="1.3"/>
<line x1="104.05" y1="543.50" x2="111.25" y2="543.50" stroke="#111" stroke-width="1.3"/>
<line x1="128.50" y1="625.50" x2="128.50" y2="628.90" stroke="#111" stroke-width="1.3"/>
<rect x="120.70" y="615.75" width="14.6" height="10.15" fill="#0d0d0d"/>
<line x1="128.50" y1="613.25" x2="128.50" y2="615.75" stroke="#111" stroke-width="1.3"/>
<line x1="124.40" y1="613.50" x2="131.60" y2="613.50" stroke="#111" stroke-width="1.3"/>
<line x1="148.50" y1="625.50" x2="148.50" y2="628.90" stroke="#111" stroke-width="1.3"/>
<rect x="141.05" y="610.50" width="14.6" height="15.40" fill="#0d0d0d"/>
<line x1="148.50" y1="605.50" x2="148.50" y2="610.50" stroke="#111" stroke-width="1.3"/>
<line x1="144.75" y1="605.50" x2="151.95" y2="605.50" stroke="#111" stroke-width="1.3"/>
<line x1="168.50" y1="625.50" x2="168.50" y2="628.90" stroke="#111" stroke-width="1.3"/>
<rect x="161.40" y="591.75" width="14.6" height="34.15" fill="#0d0d0d"/>
<line x1="168.50" y1="575.50" x2="168.50" y2="591.75" stroke="#111" stroke-width="1.3"/>
<line x1="165.10" y1="575.50" x2="172.30" y2="575.50" stroke="#111" stroke-width="1.3"/>
<line x1="85.00" y1="525.50" x2="169.75" y2="525.50" stroke="#2a2a2a" stroke-width="1.3"/>
<text x="125.75" y="525.90" font-size="10" text-anchor="middle" fill="#1a1a1a" font-family="DejaVu Sans, sans-serif" font-weight="bold" letter-spacing="-0.4" stroke="#1a1a1a" stroke-width="0.25">*</text>
<line x1="84.60" y1="538.50" x2="106.00" y2="538.50" stroke="#2a2a2a" stroke-width="1.3"/>
<text x="94.50" y="539.10" font-size="10" text-anchor="middle" fill="#1a1a1a" font-family="DejaVu Sans, sans-serif" font-weight="bold" letter-spacing="-0.4" stroke="#1a1a1a" stroke-width="0.25">*</text>
<text x="89.00" y="637.30" font-size="10.7" text-anchor="end" fill="#1a1a1a" transform="rotate(-45 89.00 637.30)">Naive</text>
<text x="107.65" y="639.10" font-size="10.7" text-anchor="end" fill="#1a1a1a" transform="rotate(-45 107.65 639.10)">Active disease</text>
<text x="130.90" y="639.50" font-size="10.7" text-anchor="end" fill="#1a1a1a" transform="rotate(-45 130.90 639.50)">Anti-CD4</text>
<text x="153.65" y="638.90" font-size="10.7" text-anchor="end" fill="#1a1a1a" transform="rotate(-45 153.65 638.90)">Prev. anti-TNFα</text>
<text x="173.70" y="639.30" font-size="10.7" text-anchor="end" fill="#1a1a1a" transform="rotate(-45 173.70 639.30)">Therap. anti-TNFα</text>
<text x="274.50" y="515.75" font-size="11.8" text-anchor="middle" fill="#1a1a1a" >IL1α</text>
<line x1="222.50" y1="522.85" x2="222.50" y2="626.15" stroke="#111" stroke-width="1.3"/>
<line x1="218.80" y1="625.50" x2="323.00" y2="625.50" stroke="#111" stroke-width="1.3"/>
<line x1="218.80" y1="523.50" x2="222.10" y2="523.50" stroke="#111" stroke-width="1.3"/>
<text x="213.80" y="527.20" font-size="10" text-anchor="end" fill="#1a1a1a" >1,500</text>
<line x1="218.80" y1="557.50" x2="222.10" y2="557.50" stroke="#111" stroke-width="1.3"/>
<text x="213.80" y="561.15" font-size="10" text-anchor="end" fill="#1a1a1a" >1,000</text>
<line x1="218.80" y1="591.50" x2="222.10" y2="591.50" stroke="#111" stroke-width="1.3"/>
<text x="213.80" y="595.10" font-size="10" text-anchor="end" fill="#1a1a1a" >500</text>
<line x1="218.80" y1="625.50" x2="222.10" y2="625.50" stroke="#111" stroke-width="1.3"/>
<text x="213.80" y="629.05" font-size="10" text-anchor="end" fill="#1a1a1a" >0</text>
<line x1="232.50" y1="625.50" x2="232.50" y2="628.90" stroke="#111" stroke-width="1.3"/>
<rect x="225.10" y="578.00" width="14.6" height="47.90" fill="#0d0d0d"/>
<line x1="232.50" y1="553.25" x2="232.50" y2="578.00" stroke="#111" stroke-width="1.3"/>
<line x1="228.80" y1="553.50" x2="236.00" y2="553.50" stroke="#111" stroke-width="1.3"/>
<line x1="252.50" y1="625.50" x2="252.50" y2="628.90" stroke="#111" stroke-width="1.3"/>
<rect x="245.45" y="596.25" width="14.6" height="29.65" fill="#0d0d0d"/>
<line x1="252.50" y1="591.25" x2="252.50" y2="596.25" stroke="#111" stroke-width="1.3"/>
<line x1="249.15" y1="591.50" x2="256.35" y2="591.50" stroke="#111" stroke-width="1.3"/>
<line x1="273.50" y1="625.50" x2="273.50" y2="628.90" stroke="#111" stroke-width="1.3"/>
<rect x="265.80" y="583.00" width="14.6" height="42.90" fill="#0d0d0d"/>
<line x1="273.50" y1="568.25" x2="273.50" y2="583.00" stroke="#111" stroke-width="1.3"/>
<line x1="269.50" y1="568.50" x2="276.70" y2="568.50" stroke="#111" stroke-width="1.3"/>
<line x1="293.50" y1="625.50" x2="293.50" y2="628.90" stroke="#111" stroke-width="1.3"/>
<rect x="286.15" y="580.50" width="14.6" height="45.40" fill="#0d0d0d"/>
<line x1="293.50" y1="570.00" x2="293.50" y2="580.50" stroke="#111" stroke-width="1.3"/>
<line x1="289.85" y1="570.50" x2="297.05" y2="570.50" stroke="#111" stroke-width="1.3"/>
<line x1="313.50" y1="625.50" x2="313.50" y2="628.90" stroke="#111" stroke-width="1.3"/>
<rect x="306.50" y="602.00" width="14.6" height="23.90" fill="#0d0d0d"/>
<line x1="313.50" y1="594.40" x2="313.50" y2="602.00" stroke="#111" stroke-width="1.3"/>
<line x1="310.20" y1="594.50" x2="317.40" y2="594.50" stroke="#111" stroke-width="1.3"/>
<text x="233.30" y="637.30" font-size="10.7" text-anchor="end" fill="#1a1a1a" transform="rotate(-45 233.30 637.30)">Naive</text>
<text x="252.55" y="638.10" font-size="10.7" text-anchor="end" fill="#1a1a1a" transform="rotate(-45 252.55 638.10)">Active disease</text>
<text x="273.80" y="638.90" font-size="10.7" text-anchor="end" fill="#1a1a1a" transform="rotate(-45 273.80 638.90)">Anti-CD4</text>
<text x="297.95" y="637.30" font-size="10.7" text-anchor="end" fill="#1a1a1a" transform="rotate(-45 297.95 637.30)">Prev. anti-TNFα</text>
<text x="317.60" y="638.10" font-size="10.7" text-anchor="end" fill="#1a1a1a" transform="rotate(-45 317.60 638.10)">Therap. anti-TNFα</text>
<text x="413.75" y="515.10" font-size="11.8" text-anchor="middle" fill="#1a1a1a" >Cxcl9</text>
<line x1="367.50" y1="522.85" x2="367.50" y2="625.15" stroke="#111" stroke-width="1.3"/>
<line x1="364.10" y1="624.50" x2="470.00" y2="624.50" stroke="#111" stroke-width="1.3"/>
<line x1="364.10" y1="523.50" x2="367.40" y2="523.50" stroke="#111" stroke-width="1.3"/>
<text x="359.10" y="526.55" font-size="10" text-anchor="end" fill="#1a1a1a" >1,000</text>
<line x1="364.10" y1="543.50" x2="367.40" y2="543.50" stroke="#111" stroke-width="1.3"/>
<text x="359.10" y="546.93" font-size="10" text-anchor="end" fill="#1a1a1a" >800</text>
<line x1="364.10" y1="563.50" x2="367.40" y2="563.50" stroke="#111" stroke-width="1.3"/>
<text x="359.10" y="567.31" font-size="10" text-anchor="end" fill="#1a1a1a" >600</text>
<line x1="364.10" y1="584.50" x2="367.40" y2="584.50" stroke="#111" stroke-width="1.3"/>
<text x="359.10" y="587.69" font-size="10" text-anchor="end" fill="#1a1a1a" >400</text>
<line x1="364.10" y1="604.50" x2="367.40" y2="604.50" stroke="#111" stroke-width="1.3"/>
<text x="359.10" y="608.07" font-size="10" text-anchor="end" fill="#1a1a1a" >200</text>
<line x1="364.10" y1="624.50" x2="367.40" y2="624.50" stroke="#111" stroke-width="1.3"/>
<text x="359.10" y="628.45" font-size="10" text-anchor="end" fill="#1a1a1a" >0</text>
<line x1="377.50" y1="624.90" x2="377.50" y2="628.30" stroke="#111" stroke-width="1.3"/>
<rect x="370.60" y="616.75" width="14.6" height="8.55" fill="#0d0d0d"/>
<line x1="377.50" y1="615.00" x2="377.50" y2="616.75" stroke="#111" stroke-width="1.3"/>
<line x1="374.30" y1="615.50" x2="381.50" y2="615.50" stroke="#111" stroke-width="1.3"/>
<line x1="398.50" y1="624.90" x2="398.50" y2="628.30" stroke="#111" stroke-width="1.3"/>
<rect x="390.95" y="590.75" width="14.6" height="34.55" fill="#0d0d0d"/>
<line x1="398.50" y1="585.50" x2="398.50" y2="590.75" stroke="#111" stroke-width="1.3"/>
<line x1="394.65" y1="585.50" x2="401.85" y2="585.50" stroke="#111" stroke-width="1.3"/>
<line x1="418.50" y1="624.90" x2="418.50" y2="628.30" stroke="#111" stroke-width="1.3"/>
<rect x="411.30" y="615.75" width="14.6" height="9.55" fill="#0d0d0d"/>
<line x1="418.50" y1="612.50" x2="418.50" y2="615.75" stroke="#111" stroke-width="1.3"/>
<line x1="415.00" y1="612.50" x2="422.20" y2="612.50" stroke="#111" stroke-width="1.3"/>
<line x1="438.50" y1="624.90" x2="438.50" y2="628.30" stroke="#111" stroke-width="1.3"/>
<rect x="431.65" y="615.75" width="14.6" height="9.55" fill="#0d0d0d"/>
<line x1="438.50" y1="610.00" x2="438.50" y2="615.75" stroke="#111" stroke-width="1.3"/>
<line x1="435.35" y1="610.50" x2="442.55" y2="610.50" stroke="#111" stroke-width="1.3"/>
<line x1="459.50" y1="624.90" x2="459.50" y2="628.30" stroke="#111" stroke-width="1.3"/>
<rect x="452.00" y="552.20" width="14.6" height="73.10" fill="#0d0d0d"/>
<line x1="459.50" y1="533.25" x2="459.50" y2="552.20" stroke="#111" stroke-width="1.3"/>
<line x1="455.70" y1="533.50" x2="462.90" y2="533.50" stroke="#111" stroke-width="1.3"/>
<line x1="374.00" y1="528.50" x2="460.75" y2="528.50" stroke="#2a2a2a" stroke-width="1.3"/>
<text x="417.50" y="528.80" font-size="10" text-anchor="middle" fill="#1a1a1a" font-family="DejaVu Sans, sans-serif" font-weight="bold" letter-spacing="-0.4" stroke="#1a1a1a" stroke-width="0.25">*</text>
<line x1="435.25" y1="545.50" x2="455.00" y2="545.50" stroke="#2a2a2a" stroke-width="1.3"/>
<text x="445.00" y="545.90" font-size="10" text-anchor="middle" fill="#1a1a1a" font-family="DejaVu Sans, sans-serif" font-weight="bold" letter-spacing="-0.4" stroke="#1a1a1a" stroke-width="0.25">**</text>
<text x="380.00" y="636.00" font-size="10.7" text-anchor="end" fill="#1a1a1a" transform="rotate(-45 380.00 636.00)">Naive</text>
<text x="399.35" y="636.30" font-size="10.7" text-anchor="end" fill="#1a1a1a" transform="rotate(-45 399.35 636.30)">Active disease</text>
<text x="420.30" y="637.80" font-size="10.7" text-anchor="end" fill="#1a1a1a" transform="rotate(-45 420.30 637.80)">Anti-CD4</text>
<text x="443.75" y="637.00" font-size="10.7" text-anchor="end" fill="#1a1a1a" transform="rotate(-45 443.75 637.00)">Prev. anti-TNFα</text>
<text x="463.80" y="637.20" font-size="10.7" text-anchor="end" fill="#1a1a1a" transform="rotate(-45 463.80 637.20)">Therap. anti-TNFα</text>
<text x="573.10" y="515.25" font-size="11.8" text-anchor="middle" fill="#1a1a1a" >G-CSF</text>
<line x1="522.50" y1="521.85" x2="522.50" y2="625.15" stroke="#111" stroke-width="1.3"/>
<line x1="519.10" y1="624.50" x2="626.00" y2="624.50" stroke="#111" stroke-width="1.3"/>
<line x1="519.10" y1="522.50" x2="522.40" y2="522.50" stroke="#111" stroke-width="1.3"/>
<text x="514.10" y="526.35" font-size="10" text-anchor="end" fill="#1a1a1a" >50,000</text>
<line x1="519.10" y1="543.50" x2="522.40" y2="543.50" stroke="#111" stroke-width="1.3"/>
<text x="514.10" y="546.77" font-size="10" text-anchor="end" fill="#1a1a1a" >40,000</text>
<line x1="519.10" y1="563.50" x2="522.40" y2="563.50" stroke="#111" stroke-width="1.3"/>
<text x="514.10" y="567.19" font-size="10" text-anchor="end" fill="#1a1a1a" >30,000</text>
<line x1="519.10" y1="584.50" x2="522.40" y2="584.50" stroke="#111" stroke-width="1.3"/>
<text x="514.10" y="587.61" font-size="10" text-anchor="end" fill="#1a1a1a" >20,000</text>
<line x1="519.10" y1="604.50" x2="522.40" y2="604.50" stroke="#111" stroke-width="1.3"/>
<text x="514.10" y="608.03" font-size="10" text-anchor="end" fill="#1a1a1a" >10,000</text>
<line x1="519.10" y1="624.50" x2="522.40" y2="624.50" stroke="#111" stroke-width="1.3"/>
<text x="514.10" y="628.45" font-size="10" text-anchor="end" fill="#1a1a1a" >0</text>
<line x1="532.50" y1="624.90" x2="532.50" y2="628.30" stroke="#111" stroke-width="1.3"/>
<rect x="525.20" y="621.75" width="14.6" height="3.55" fill="#0d0d0d"/>
<line x1="532.50" y1="620.70" x2="532.50" y2="621.75" stroke="#111" stroke-width="1.3"/>
<line x1="528.90" y1="620.50" x2="536.10" y2="620.50" stroke="#111" stroke-width="1.3"/>
<line x1="552.50" y1="624.90" x2="552.50" y2="628.30" stroke="#111" stroke-width="1.3"/>
<rect x="545.55" y="562.70" width="14.6" height="62.60" fill="#0d0d0d"/>
<line x1="552.50" y1="546.90" x2="552.50" y2="562.70" stroke="#111" stroke-width="1.3"/>
<line x1="549.25" y1="546.50" x2="556.45" y2="546.50" stroke="#111" stroke-width="1.3"/>
<line x1="573.50" y1="624.90" x2="573.50" y2="628.30" stroke="#111" stroke-width="1.3"/>
<rect x="565.90" y="621.20" width="14.6" height="4.10" fill="#0d0d0d"/>
<line x1="573.50" y1="620.00" x2="573.50" y2="621.20" stroke="#111" stroke-width="1.3"/>
<line x1="569.60" y1="620.50" x2="576.80" y2="620.50" stroke="#111" stroke-width="1.3"/>
<line x1="593.50" y1="624.90" x2="593.50" y2="628.30" stroke="#111" stroke-width="1.3"/>
<rect x="586.25" y="613.20" width="14.6" height="12.10" fill="#0d0d0d"/>
<line x1="593.50" y1="607.40" x2="593.50" y2="613.20" stroke="#111" stroke-width="1.3"/>
<line x1="589.95" y1="607.50" x2="597.15" y2="607.50" stroke="#111" stroke-width="1.3"/>
<line x1="613.50" y1="624.90" x2="613.50" y2="628.30" stroke="#111" stroke-width="1.3"/>
<rect x="606.60" y="569.00" width="14.6" height="56.30" fill="#0d0d0d"/>
<line x1="613.50" y1="546.90" x2="613.50" y2="569.00" stroke="#111" stroke-width="1.3"/>
<line x1="610.30" y1="546.50" x2="617.50" y2="546.50" stroke="#111" stroke-width="1.3"/>
<line x1="531.10" y1="523.50" x2="551.30" y2="523.50" stroke="#2a2a2a" stroke-width="1.3"/>
<text x="541.20" y="523.70" font-size="10" text-anchor="middle" fill="#1a1a1a" font-family="DejaVu Sans, sans-serif" font-weight="bold" letter-spacing="-0.4" stroke="#1a1a1a" stroke-width="0.25">**</text>
<line x1="531.10" y1="539.50" x2="617.40" y2="539.50" stroke="#2a2a2a" stroke-width="1.3"/>
<text x="574.00" y="539.50" font-size="10" text-anchor="middle" fill="#1a1a1a" font-family="DejaVu Sans, sans-serif" font-weight="bold" letter-spacing="-0.4" stroke="#1a1a1a" stroke-width="0.25">*</text>
<text x="533.50" y="635.60" font-size="10.7" text-anchor="end" fill="#1a1a1a" transform="rotate(-45 533.50 635.60)">Naive</text>
<text x="552.55" y="636.80" font-size="10.7" text-anchor="end" fill="#1a1a1a" transform="rotate(-45 552.55 636.80)">Active disease</text>
<text x="574.40" y="638.60" font-size="10.7" text-anchor="end" fill="#1a1a1a" transform="rotate(-45 574.40 638.60)">Anti-CD4</text>
<text x="598.25" y="637.30" font-size="10.7" text-anchor="end" fill="#1a1a1a" transform="rotate(-45 598.25 637.30)">Prev. anti-TNFα</text>
<text x="618.20" y="637.00" font-size="10.7" text-anchor="end" fill="#1a1a1a" transform="rotate(-45 618.20 637.00)">Therap. anti-TNFα</text>
<text x="1.0" y="10.4" font-size="16.5" font-weight="bold" fill="#000">a</text>
<text x="0.8" y="369.4" font-size="16.5" font-weight="bold" fill="#000">b</text>
<line x1="22.50" y1="24.20" x2="22.50" y2="271.00" stroke="#2a2a2a" stroke-width="1.2"/>
<line x1="21.50" y1="386.50" x2="21.50" y2="632.50" stroke="#2a2a2a" stroke-width="1.2"/>
<text x="13.4" y="139.6" font-size="11.7" text-anchor="middle" fill="#1a1a1a" textLength="109.5" lengthAdjust="spacingAndGlyphs" transform="rotate(-90 13.4 139.6)">Colon homogenates</text>
<text x="10.7" y="517.7" font-size="12" text-anchor="middle" fill="#1a1a1a" textLength="35.5" lengthAdjust="spacingAndGlyphs" transform="rotate(-90 10.7 517.7)">Serum</text>
<text x="36.7" y="75.7" font-size="11" text-anchor="middle" fill="#1a1a1a" textLength="65" lengthAdjust="spacingAndGlyphs" transform="rotate(-90 36.7 75.7)">pg g<tspan dy="-4.6" font-size="7.5">−1</tspan><tspan dy="4.6"> tissue</tspan></text>
<text x="36.7" y="208.6" font-size="11" text-anchor="middle" fill="#1a1a1a" textLength="65" lengthAdjust="spacingAndGlyphs" transform="rotate(-90 36.7 208.6)">pg g<tspan dy="-4.6" font-size="7.5">−1</tspan><tspan dy="4.6"> tissue</tspan></text>
<text x="41.8" y="431.1" font-size="11" text-anchor="middle" fill="#1a1a1a" textLength="37.3" lengthAdjust="spacingAndGlyphs" transform="rotate(-90 41.8 431.1)">pg ml<tspan dy="-4.6" font-size="7.5">−1</tspan></text>
<text x="41.8" y="567.5" font-size="11" text-anchor="middle" fill="#1a1a1a" textLength="37.3" lengthAdjust="spacingAndGlyphs" transform="rotate(-90 41.8 567.5)">pg ml<tspan dy="-4.6" font-size="7.5">−1</tspan></text>
</svg>
</body></html>
